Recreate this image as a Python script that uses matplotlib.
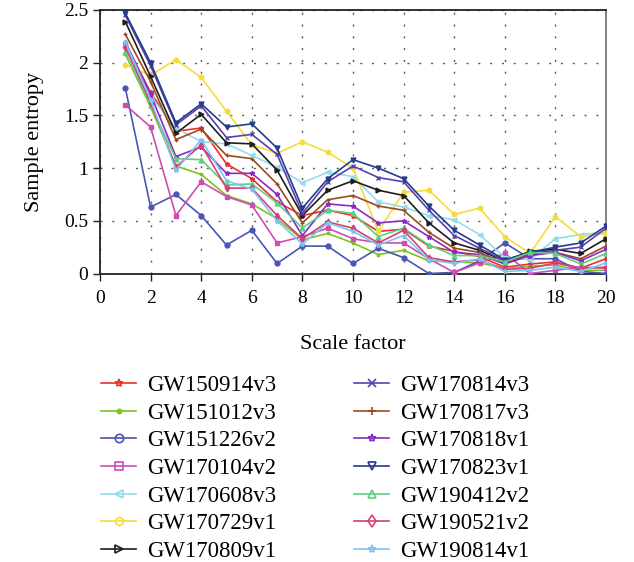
import matplotlib
matplotlib.use("Agg")
import matplotlib.pyplot as plt
from matplotlib.lines import Line2D

scale = list(range(1, 21))

gw150914v3 = [2.18, 1.72, 1.35, 1.38, 1.04, 0.90, 0.68, 0.55, 0.60, 0.55, 0.40, 0.42, 0.26, 0.21, 0.16, 0.06, 0.09, 0.11, 0.05, 0.14]
gw151012v3 = [2.08, 1.58, 1.02, 0.94, 0.74, 0.66, 0.52, 0.32, 0.38, 0.29, 0.18, 0.22, 0.12, 0.11, 0.10, 0.05, 0.07, 0.08, 0.03, 0.03]
gw151226v2 = [1.76, 0.63, 0.75, 0.55, 0.27, 0.41, 0.095, 0.26, 0.26, 0.095, 0.24, 0.15, 0.0, 0.01, 0.12, 0.29, 0.14, 0.14, 0.02, 0.0]
gw170104v2 = [1.60, 1.39, 0.55, 0.87, 0.73, 0.65, 0.29, 0.35, 0.43, 0.33, 0.29, 0.29, 0.14, 0.01, 0.10, 0.19, 0.00, 0.03, 0.06, 0.05]
gw170608v3 = [2.17, 1.68, 1.38, 1.25, 1.23, 1.12, 1.01, 0.86, 0.96, 0.92, 0.68, 0.63, 0.55, 0.51, 0.37, 0.15, 0.13, 0.33, 0.37, 0.39]
gw170729v1 = [1.98, 1.88, 2.03, 1.86, 1.54, 1.22, 1.14, 1.25, 1.15, 1.00, 0.40, 0.77, 0.79, 0.56, 0.62, 0.35, 0.19, 0.54, 0.35, 0.38]
gw170809v1 = [2.39, 1.87, 1.33, 1.51, 1.24, 1.23, 0.98, 0.55, 0.79, 0.88, 0.79, 0.74, 0.48, 0.29, 0.22, 0.12, 0.21, 0.23, 0.19, 0.33]
gw170814v3 = [2.45, 1.97, 1.41, 1.59, 1.29, 1.32, 1.13, 0.57, 0.87, 1.02, 0.91, 0.87, 0.60, 0.36, 0.24, 0.12, 0.19, 0.22, 0.25, 0.43]
gw170817v3 = [2.27, 1.82, 1.27, 1.37, 1.12, 1.09, 0.85, 0.48, 0.70, 0.74, 0.64, 0.60, 0.39, 0.24, 0.20, 0.10, 0.18, 0.20, 0.14, 0.26]
gw170818v1 = [2.20, 1.70, 1.11, 1.20, 0.95, 0.95, 0.75, 0.36, 0.66, 0.64, 0.48, 0.50, 0.35, 0.20, 0.18, 0.09, 0.17, 0.20, 0.12, 0.23]
gw170823v1 = [2.47, 2.00, 1.43, 1.61, 1.39, 1.42, 1.19, 0.62, 0.90, 1.08, 1.00, 0.90, 0.64, 0.41, 0.27, 0.13, 0.20, 0.25, 0.29, 0.45]
gw190412v2 = [2.10, 1.60, 1.09, 1.08, 0.84, 0.85, 0.67, 0.43, 0.60, 0.57, 0.35, 0.43, 0.27, 0.17, 0.17, 0.11, 0.20, 0.19, 0.09, 0.19]
gw190521v2 = [2.15, 1.62, 1.01, 1.22, 0.81, 0.81, 0.55, 0.33, 0.49, 0.43, 0.29, 0.41, 0.15, 0.11, 0.13, 0.04, 0.05, 0.10, 0.05, 0.06]
gw190814v1 = [2.20, 1.65, 0.98, 1.27, 0.88, 0.80, 0.50, 0.28, 0.48, 0.40, 0.27, 0.36, 0.13, 0.095, 0.14, 0.02, 0.03, 0.06, 0.02, 0.10]

names = ["GW150914v3", "GW151012v3", "GW151226v2", "GW170104v2", "GW170608v3",
         "GW170729v1", "GW170809v1", "GW170814v3", "GW170817v3", "GW170818v1",
         "GW170823v1", "GW190412v2", "GW190521v2", "GW190814v1"]
series = [gw150914v3, gw151012v3, gw151226v2, gw170104v2, gw170608v3,
          gw170729v1, gw170809v1, gw170814v3, gw170817v3, gw170818v1,
          gw170823v1, gw190412v2, gw190521v2, gw190814v1]
colors = ["#e8312a", "#7cc41c", "#4a55b5", "#cc4db5", "#93dcec",
          "#f5dc3c", "#1e1e1e", "#5b3fb0", "#9a4a1f", "#8a2bc8",
          "#233d8a", "#5dd082", "#d4407a", "#7ec4ec"]
markers = ["*", ".", "o", "s", "<", "h", ">", "x", "+", "*", "v", "^", "d", "*"]

xticks = list(range(0, 21, 2))
yticks = [0, 0.5, 1, 1.5, 2, 2.5]
ytick_labels = ["0", "0.5", "1", "1.5", "2", "2.5"]

plt.rcParams['font.family'] = ['Liberation Serif', 'DejaVu Serif']

fig = plt.figure(figsize=(6.34, 5.62), dpi=100)
ax = fig.add_axes([100/634, 1-273.5/562, 506/634, 263.5/562])

for name, vals, c, m in zip(names, series, colors, markers):
    ax.plot(scale, vals, color=c, lw=1.2, marker=m, ms=3.5, mfc=c, mec=c, mew=1, zorder=3)

ax.set_xlim(0, 20)
ax.set_ylim(0, 2.5)
ax.set_xticks(xticks)
ax.set_yticks(yticks)
ax.set_yticklabels(ytick_labels)
ax.tick_params(axis='both', labelsize=14, direction='out', length=5, width=1, color='#222222', top=False, right=False)
ax.tick_params(axis='x', pad=7)
ax.grid(True, color='#333333', linestyle=(0, (1.5, 7)), linewidth=1.0, alpha=0.8, zorder=0)
for s in ['left', 'bottom', 'top']:
    ax.spines[s].set_color('#222222')
    ax.spines[s].set_linewidth(1.3)
ax.spines['right'].set_color('#777777')
ax.spines['right'].set_linewidth(1.3)

ax.set_ylabel("Sample entropy", fontsize=16, labelpad=14)
ax.set_xlabel("Scale factor", fontsize=16, labelpad=20)

handles = [Line2D([0], [0], color=c, lw=1.2, marker=m, ms=6, mfc='none' if m not in ('.', 'x', '+') else c, mec=c, mew=1.2)
           for c, m in zip(colors, markers)]
fig.legend(handles, names, ncol=2, loc='upper left', bbox_to_anchor=(101/634, 1-375/562),
           frameon=False, fontsize=16.5, handlelength=1.53, handletextpad=0.48,
           columnspacing=3.4, labelspacing=0.29, borderaxespad=0, borderpad=0)

fig.savefig("out.png", dpi=100)
